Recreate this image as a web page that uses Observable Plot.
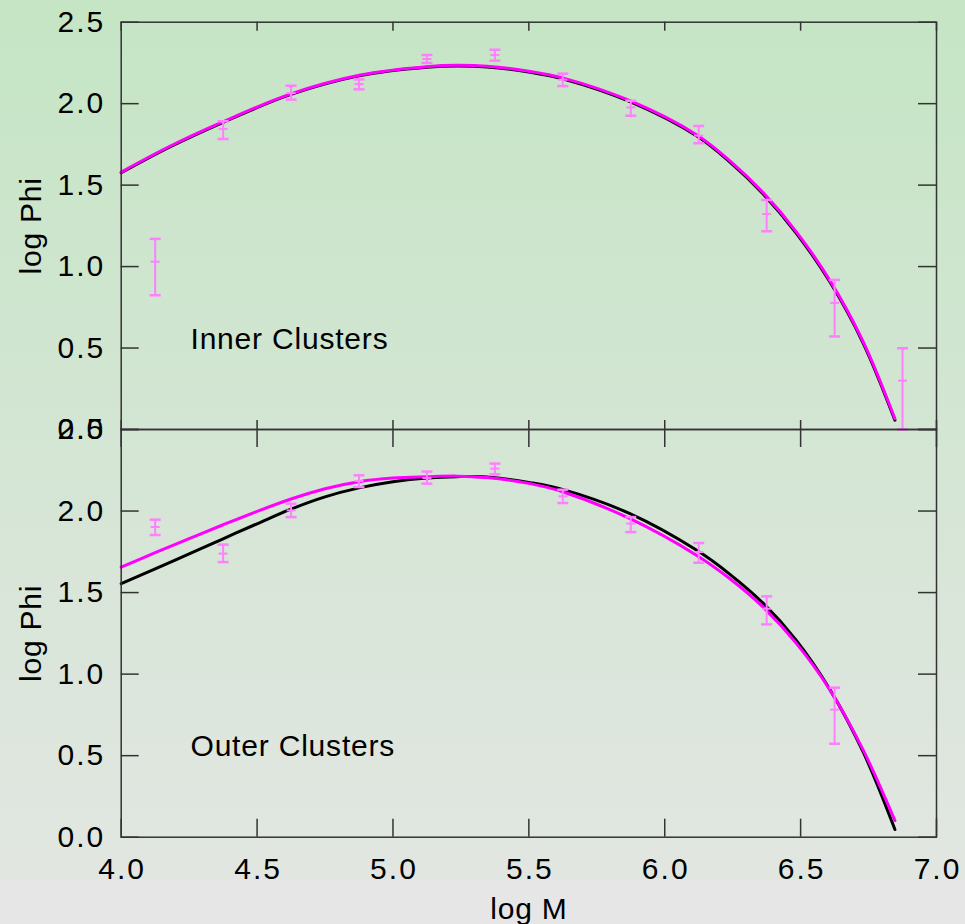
<!DOCTYPE html>
<html><head><meta charset="utf-8">
<script src="https://cdn.jsdelivr.net/npm/d3@7"></script>
<script src="https://cdn.jsdelivr.net/npm/@observablehq/plot@0.6"></script>
<style>
html,body{margin:0;padding:0;background:#e6e6e6;}
#chart{position:relative;width:965px;height:924px;overflow:hidden;
  background:linear-gradient(to bottom,#c5e5c5 0px,#e2e6e2 881px,#e6e6e6 881px,#e6e6e6 924px);}
#top,#bottom{position:absolute;left:0;}
#top{top:0;}
#bottom{top:400px;}
g[aria-label$="tick label"]{letter-spacing:2px;}
</style></head>
<body>
<div id="chart"><div id="top"></div><div id="bottom"></div></div>
<script>
// ---- tick labels ----
const xTicks = [4.0, 4.5, 5.0, 5.5, 6.0, 6.5, 7.0];
const yTicks = [0.0, 0.5, 1.0, 1.5, 2.0, 2.5];

// ---- binned data (log M bin centres) ----
const binX = [4.125, 4.375, 4.625, 4.875, 5.125, 5.375, 5.625, 5.875, 6.125, 6.375, 6.625, 6.875];

const innerY  = [1.03, 1.845, 2.065, 2.12, 2.274, 2.299, 2.147, 1.977, 1.804, 1.323, 0.777, 0.30];
const innerLo = [0.824, 1.783, 2.025, 2.088, 2.25, 2.264, 2.108, 1.926, 1.757, 1.217, 0.571, 0.0];
const innerHi = [1.17, 1.892, 2.110, 2.149, 2.299, 2.331, 2.184, 2.018, 1.863, 1.409, 0.918, 0.499];

const outerY  = [1.902, 1.739, 2.004, 2.184, 2.203, 2.260, 2.090, 1.923, 1.749, 1.401, 0.782];
const outerLo = [1.853, 1.687, 1.963, 2.147, 2.168, 2.225, 2.049, 1.871, 1.683, 1.305, 0.573];
const outerHi = [1.947, 1.794, 2.045, 2.219, 2.242, 2.291, 2.131, 1.963, 1.804, 1.477, 0.917];

// ---- fitted curves ----
const innerCurveX  = [4.0, 4.181, 4.365, 4.622, 4.88, 5.125, 5.235, 5.346, 5.505, 5.627, 5.872, 6.118, 6.24, 6.362, 6.485, 6.608, 6.73, 6.847];
const innerMagenta = [1.58, 1.74, 1.882, 2.059, 2.176, 2.227, 2.235, 2.229, 2.198, 2.157, 2.018, 1.808, 1.649, 1.454, 1.212, 0.914, 0.54, 0.066];
const innerBlack   = [1.576, 1.736, 1.878, 2.055, 2.172, 2.223, 2.231, 2.225, 2.193, 2.151, 2.012, 1.801, 1.641, 1.446, 1.203, 0.905, 0.531, 0.057];

const outerCurveX  = [4.0, 4.125, 4.25, 4.375, 4.5, 4.625, 4.75, 4.875, 5.0, 5.125, 5.235, 5.346, 5.505, 5.627, 5.872, 6.118, 6.24, 6.362, 6.485, 6.608, 6.73, 6.847];
const outerMagenta = [1.656, 1.745, 1.831, 1.916, 1.998, 2.074, 2.137, 2.180, 2.202, 2.210, 2.214, 2.205, 2.168, 2.117, 1.953, 1.728, 1.585, 1.411, 1.187, 0.903, 0.535, 0.102];
const outerBlack   = [1.555, 1.645, 1.738, 1.830, 1.922, 2.012, 2.087, 2.142, 2.180, 2.203, 2.211, 2.209, 2.174, 2.131, 1.984, 1.759, 1.612, 1.435, 1.205, 0.905, 0.523, 0.047];

const panelLabels = ["Inner Clusters", "Outer Clusters"];
const yLabel = "log Phi";
const xLabel = "log M";

// ---- build tables ----
const toPoints = (ys, lo, hi) => ys.map((y, i) => ({x: binX[i], y, lo: lo[i], hi: hi[i]}));
const toCurve = (xs, ys) => ys.map((y, i) => ({x: xs[i], y}));

const hbar = {draw(ctx, size) { const r = Math.sqrt(size / Math.PI); ctx.moveTo(-r, 0); ctx.lineTo(r, 0); }};

const W = 965, ML = 120.7, MR = 29;
const plotW = W - ML - MR;
const font = "'Liberation Sans', Arial, Helvetica, sans-serif";
const frameColor = "#333";
const errColor = "#ff80ff";

function panel({height, marginTop, marginBottom, xTickLen, showX, points, curveX, black, magenta, label}) {
  const plotH = height - marginTop - marginBottom;
  const marks = [
    Plot.line(toCurve(curveX, black), {x: "x", y: "y", stroke: "#000", strokeWidth: 3, curve: "catmull-rom"}),
    Plot.line(toCurve(curveX, magenta), {x: "x", y: "y", stroke: "#ff00ff", strokeWidth: 3, curve: "catmull-rom"}),
    Plot.ruleX(points, {x: "x", y1: "lo", y2: "hi", stroke: errColor, strokeWidth: 2}),
    Plot.dot(points, {x: "x", y: "lo", symbol: hbar, r: 5.5, stroke: errColor, strokeWidth: 2.5}),
    Plot.dot(points, {x: "x", y: "hi", symbol: hbar, r: 5.5, stroke: errColor, strokeWidth: 2.5}),
    Plot.dot(points, {x: "x", y: "y", symbol: hbar, r: 4.5, stroke: errColor, strokeWidth: 2}),
    Plot.frame({stroke: frameColor, strokeWidth: 1.5}),
    Plot.tickY(yTicks, {y: d => d, insetRight: plotW - 18, stroke: frameColor, strokeWidth: 1.5}),
    Plot.tickY(yTicks, {y: d => d, insetLeft: plotW - 18, stroke: frameColor, strokeWidth: 1.5}),
    Plot.tickX(xTicks, {x: d => d, insetBottom: plotH - xTickLen, stroke: frameColor, strokeWidth: 1.5}),
    Plot.tickX(xTicks, {x: d => d, insetTop: plotH - xTickLen, stroke: frameColor, strokeWidth: 1.5}),
    Plot.axisY(yTicks, {tickSize: 0, tickPadding: 16, tickFormat: d3.format(".1f"), label: null, fontSize: 30}),
    Plot.text([yLabel], {frameAnchor: "left", rotate: -90, dx: -80.7, textAnchor: "middle", lineAnchor: "bottom", fontSize: 30, fill: "#000"}),
    Plot.text([label], {frameAnchor: "bottom-left", dx: 69.3, dy: -81, textAnchor: "start", lineAnchor: "bottom", fontSize: 30, fill: "#000"})
  ];
  if (showX) {
    marks.push(Plot.axisX(xTicks, {tickSize: 0, tickPadding: 20, dx: 1, tickFormat: d3.format(".1f"), label: null, fontSize: 30}));
    marks.push(Plot.text([xLabel], {frameAnchor: "bottom", dy: 81.3, textAnchor: "middle", lineAnchor: "bottom", fontSize: 30, fill: "#000"}));
  }
  return Plot.plot({
    width: W, height, marginTop, marginBottom, marginLeft: ML, marginRight: MR,
    x: {domain: [4, 7], ...(showX ? {} : {axis: null})},
    y: {domain: [0, 2.5]},
    style: {background: "transparent", overflow: "visible", fontFamily: font, fontSize: "30px", color: "#000", letterSpacing: "0.8px"},
    marks
  });
}

document.getElementById("top").append(panel({
  height: 460, marginTop: 21.7, marginBottom: 31, xTickLen: 9, showX: false,
  points: toPoints(innerY, innerLo, innerHi), curveX: innerCurveX, black: innerBlack, magenta: innerMagenta, label: panelLabels[0]
}));
document.getElementById("bottom").append(panel({
  height: 524, marginTop: 29, marginBottom: 87.3, xTickLen: 18, showX: true,
  points: toPoints(outerY, outerLo, outerHi), curveX: outerCurveX, black: outerBlack, magenta: outerMagenta, label: panelLabels[1]
}));
</script>
</body></html>
